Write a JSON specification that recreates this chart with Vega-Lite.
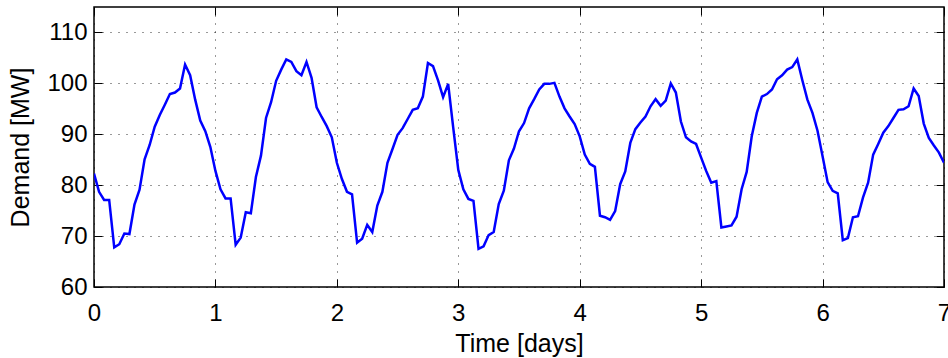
{
  "$schema": "https://vega.github.io/schema/vega-lite/v6.json",
  "autosize": "none",
  "width": 850,
  "height": 280,
  "padding": {"left": 94, "top": 7, "right": 4, "bottom": 71},
  "background": "white",
  "config": {
    "view": {"stroke": "black", "strokeWidth": 1.5},
    "font": "Liberation Sans",
    "axis": {
      "labelFont": "Liberation Sans",
      "titleFont": "Liberation Sans",
      "labelFontSize": 24,
      "titleFontSize": 25,
      "labelColor": "black",
      "titleColor": "black",
      "titleFontWeight": "normal",
      "labelFlush": false,
      "labelOverlap": false,
      "domain": false,
      "tickColor": "black",
      "tickWidth": 1,
      "gridColor": "black",
      "gridDash": [1, 7],
      "gridWidth": 1,
      "gridOpacity": 0.8
    }
  },
  "data": {"values": [
    {"t":0.0000,"d":82.3},{"t":0.0417,"d":78.7},{"t":0.0833,"d":77.1},{"t":0.1250,"d":77.1},{"t":0.1667,"d":67.8},{"t":0.2083,"d":68.4},{"t":0.2500,"d":70.5},{"t":0.2917,"d":70.4},{"t":0.3333,"d":76.2},{"t":0.3750,"d":79.1},{"t":0.4167,"d":85.1},{"t":0.4583,"d":87.9},{"t":0.5000,"d":91.5},{"t":0.5417,"d":93.8},{"t":0.5833,"d":95.8},{"t":0.6250,"d":97.9},{"t":0.6667,"d":98.2},{"t":0.7083,"d":99.0},{"t":0.7500,"d":103.7},{"t":0.7917,"d":101.6},{"t":0.8333,"d":96.8},{"t":0.8750,"d":92.7},{"t":0.9167,"d":90.6},{"t":0.9583,"d":87.5},
    {"t":1.0000,"d":82.8},{"t":1.0417,"d":79.2},{"t":1.0833,"d":77.4},{"t":1.1250,"d":77.4},{"t":1.1667,"d":68.3},{"t":1.2083,"d":69.7},{"t":1.2500,"d":74.7},{"t":1.2917,"d":74.5},{"t":1.3333,"d":81.6},{"t":1.3750,"d":85.8},{"t":1.4167,"d":93.2},{"t":1.4583,"d":96.3},{"t":1.5000,"d":100.5},{"t":1.5417,"d":102.7},{"t":1.5833,"d":104.7},{"t":1.6250,"d":104.2},{"t":1.6667,"d":102.4},{"t":1.7083,"d":101.6},{"t":1.7500,"d":104.2},{"t":1.7917,"d":101.1},{"t":1.8333,"d":95.3},{"t":1.8750,"d":93.4},{"t":1.9167,"d":91.6},{"t":1.9583,"d":89.4},
    {"t":2.0000,"d":84.4},{"t":2.0417,"d":81.2},{"t":2.0833,"d":78.7},{"t":2.1250,"d":78.2},{"t":2.1667,"d":68.7},{"t":2.2083,"d":69.5},{"t":2.2500,"d":72.2},{"t":2.2917,"d":70.8},{"t":2.3333,"d":76.0},{"t":2.3750,"d":78.7},{"t":2.4167,"d":84.4},{"t":2.4583,"d":87.1},{"t":2.5000,"d":89.9},{"t":2.5417,"d":91.2},{"t":2.5833,"d":93.0},{"t":2.6250,"d":94.8},{"t":2.6667,"d":95.1},{"t":2.7083,"d":97.4},{"t":2.7500,"d":104.0},{"t":2.7917,"d":103.4},{"t":2.8333,"d":100.6},{"t":2.8750,"d":97.3},{"t":2.9167,"d":99.9},{"t":2.9583,"d":91.3},
    {"t":3.0000,"d":83.0},{"t":3.0417,"d":79.2},{"t":3.0833,"d":77.3},{"t":3.1250,"d":76.9},{"t":3.1667,"d":67.5},{"t":3.2083,"d":68.0},{"t":3.2500,"d":70.2},{"t":3.2917,"d":70.8},{"t":3.3333,"d":76.3},{"t":3.3750,"d":78.9},{"t":3.4167,"d":84.9},{"t":3.4583,"d":87.2},{"t":3.5000,"d":90.6},{"t":3.5417,"d":92.2},{"t":3.5833,"d":95.1},{"t":3.6250,"d":96.9},{"t":3.6667,"d":98.8},{"t":3.7083,"d":99.9},{"t":3.7500,"d":99.9},{"t":3.7917,"d":100.1},{"t":3.8333,"d":97.4},{"t":3.8750,"d":95.1},{"t":3.9167,"d":93.5},{"t":3.9583,"d":92.0},
    {"t":4.0000,"d":89.6},{"t":4.0417,"d":86.0},{"t":4.0833,"d":84.2},{"t":4.1250,"d":83.6},{"t":4.1667,"d":74.0},{"t":4.2083,"d":73.7},{"t":4.2500,"d":73.2},{"t":4.2917,"d":74.9},{"t":4.3333,"d":80.2},{"t":4.3750,"d":82.7},{"t":4.4167,"d":88.3},{"t":4.4583,"d":91.0},{"t":4.5000,"d":92.3},{"t":4.5417,"d":93.5},{"t":4.5833,"d":95.5},{"t":4.6250,"d":96.9},{"t":4.6667,"d":95.6},{"t":4.7083,"d":96.6},{"t":4.7500,"d":100.0},{"t":4.7917,"d":98.2},{"t":4.8333,"d":92.5},{"t":4.8750,"d":89.4},{"t":4.9167,"d":88.6},{"t":4.9583,"d":88.1},
    {"t":5.0000,"d":85.4},{"t":5.0417,"d":82.8},{"t":5.0833,"d":80.5},{"t":5.1250,"d":80.8},{"t":5.1667,"d":71.7},{"t":5.2083,"d":71.9},{"t":5.2500,"d":72.1},{"t":5.2917,"d":73.8},{"t":5.3333,"d":79.2},{"t":5.3750,"d":82.6},{"t":5.4167,"d":89.6},{"t":5.4583,"d":94.2},{"t":5.5000,"d":97.4},{"t":5.5417,"d":97.9},{"t":5.5833,"d":98.8},{"t":5.6250,"d":100.8},{"t":5.6667,"d":101.6},{"t":5.7083,"d":102.7},{"t":5.7500,"d":103.2},{"t":5.7917,"d":104.7},{"t":5.8333,"d":100.6},{"t":5.8750,"d":96.8},{"t":5.9167,"d":94.2},{"t":5.9583,"d":90.7},
    {"t":6.0000,"d":85.7},{"t":6.0417,"d":80.6},{"t":6.0833,"d":78.9},{"t":6.1250,"d":78.4},{"t":6.1667,"d":69.2},{"t":6.2083,"d":69.6},{"t":6.2500,"d":73.7},{"t":6.2917,"d":73.9},{"t":6.3333,"d":77.6},{"t":6.3750,"d":80.5},{"t":6.4167,"d":86.0},{"t":6.4583,"d":88.1},{"t":6.5000,"d":90.3},{"t":6.5417,"d":91.6},{"t":6.5833,"d":93.2},{"t":6.6250,"d":94.8},{"t":6.6667,"d":94.9},{"t":6.7083,"d":95.5},{"t":6.7500,"d":99.0},{"t":6.7917,"d":97.5},{"t":6.8333,"d":92.1},{"t":6.8750,"d":89.3},{"t":6.9167,"d":87.8},{"t":6.9583,"d":86.4},
    {"t":7.0000,"d":84.4}
  ]},
  "layer": [
    {
      "mark": {"type": "line", "color": "#0000FF", "strokeWidth": 2.5, "clip": true},
      "encoding": {
        "x": {"field": "t", "type": "quantitative", "scale": {"domain": [0, 7], "nice": false, "zero": false},
              "axis": {"title": "Time [days]", "values": [0,1,2,3,4,5,6,7], "format": "d", "tickSize": -8, "labelPadding": 22, "titlePadding": 6, "grid": true, "orient": "bottom"}},
        "y": {"field": "d", "type": "quantitative", "scale": {"domain": [60, 115], "nice": false, "zero": false},
              "axis": {"title": "Demand [MW]", "values": [60,70,80,90,100,110], "format": "d", "tickSize": -8, "labelPadding": 15, "titlePadding": 13, "grid": true, "orient": "left"}}
      }
    },
    {
      "mark": {"type": "line", "opacity": 0},
      "encoding": {
        "x": {"field": "t", "type": "quantitative", "axis": {"orient": "top", "values": [0,1,2,3,4,5,6,7], "labels": false, "title": null, "tickSize": -8, "grid": false}},
        "y": {"field": "d", "type": "quantitative", "axis": {"orient": "right", "values": [60,70,80,90,100,110], "labels": false, "title": null, "tickSize": -8, "grid": false}}
      }
    }
  ],
  "resolve": {"axis": {"x": "independent", "y": "independent"}}
}
